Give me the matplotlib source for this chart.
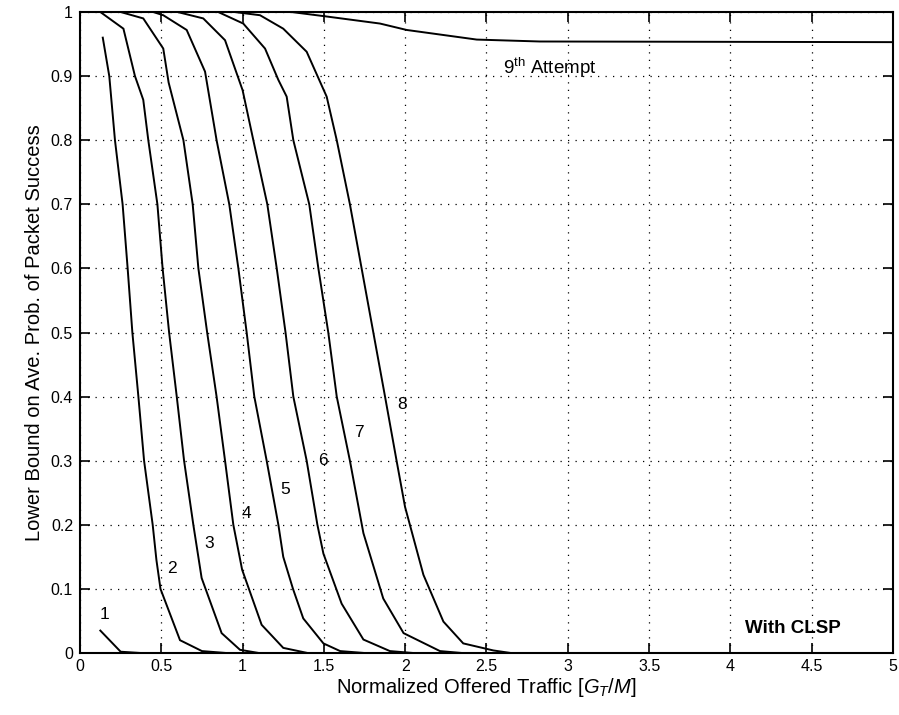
import matplotlib
matplotlib.use("Agg")
import matplotlib.pyplot as plt

plt.rcParams['font.family'] = ['Liberation Sans', 'DejaVu Sans']
plt.rcParams['mathtext.fontset'] = 'custom'
plt.rcParams['mathtext.rm'] = 'Liberation Sans'
plt.rcParams['mathtext.it'] = 'Liberation Sans:italic'

# ---- data ----
c1_x = [0.125, 0.25, 0.375, 5.0]
c1_y = [0.035, 0.002, 0.0, 0.0]

c2_x = [0.14, 0.18, 0.215, 0.262, 0.293, 0.322, 0.359, 0.394, 0.447, 0.47, 0.495, 0.615, 0.75, 0.9, 5.0]
c2_y = [0.96, 0.90, 0.80, 0.70, 0.60, 0.50, 0.40, 0.30, 0.20, 0.145, 0.10, 0.02, 0.003, 0.0, 0.0]

c3_x = [0.125, 0.267, 0.338, 0.389, 0.42, 0.476, 0.508, 0.548, 0.595, 0.64, 0.697, 0.748, 0.871, 0.984, 1.1, 5.0]
c3_y = [1.0, 0.974, 0.90, 0.863, 0.80, 0.70, 0.60, 0.50, 0.40, 0.30, 0.20, 0.117, 0.031, 0.005, 0.0, 0.0]

c4_x = [0.125, 0.25, 0.389, 0.512, 0.545, 0.636, 0.693, 0.728, 0.782, 0.84, 0.892, 0.943, 0.997, 1.117, 1.25, 1.4, 5.0]
c4_y = [1.0, 1.0, 0.99, 0.943, 0.89, 0.80, 0.70, 0.60, 0.50, 0.40, 0.30, 0.20, 0.13, 0.044, 0.008, 0.0, 0.0]

c5_x = [0.125, 0.45, 0.512, 0.656, 0.769, 0.84, 0.918, 0.974, 1.025, 1.072, 1.148, 1.22, 1.25, 1.31, 1.373, 1.497, 1.6, 1.75, 5.0]
c5_y = [1.0, 1.0, 0.995, 0.972, 0.907, 0.80, 0.70, 0.60, 0.50, 0.40, 0.30, 0.20, 0.15, 0.10, 0.054, 0.015, 0.003, 0.0, 0.0]

c6_x = [0.125, 0.6, 0.758, 0.892, 1.0, 1.066, 1.152, 1.21, 1.264, 1.312, 1.394, 1.46, 1.497, 1.609, 1.743, 1.906, 2.05, 5.0]
c6_y = [1.0, 1.0, 0.99, 0.956, 0.878, 0.80, 0.70, 0.60, 0.50, 0.40, 0.30, 0.20, 0.155, 0.077, 0.021, 0.003, 0.0, 0.0]

c7_x = [0.125, 0.85, 1.004, 1.138, 1.22, 1.271, 1.312, 1.41, 1.466, 1.527, 1.579, 1.66, 1.743, 1.865, 1.99, 2.214, 2.35, 5.0]
c7_y = [1.0, 1.0, 0.982, 0.943, 0.894, 0.868, 0.80, 0.70, 0.60, 0.50, 0.40, 0.30, 0.187, 0.085, 0.031, 0.003, 0.0, 0.0]

c8_x = [0.125, 0.95, 1.107, 1.25, 1.394, 1.517, 1.579, 1.66, 1.732, 1.804, 1.876, 1.947, 1.999, 2.112, 2.235, 2.357, 2.542, 2.65, 5.0]
c8_y = [1.0, 1.0, 0.995, 0.974, 0.938, 0.868, 0.80, 0.70, 0.60, 0.50, 0.40, 0.30, 0.228, 0.122, 0.049, 0.015, 0.004, 0.0, 0.0]

c9_x = [0.125, 1.3, 1.517, 1.845, 2.009, 2.44, 2.829, 5.0]
c9_y = [1.0, 1.0, 0.993, 0.982, 0.972, 0.957, 0.954, 0.953]

curves = [(c1_x, c1_y), (c2_x, c2_y), (c3_x, c3_y), (c4_x, c4_y), (c5_x, c5_y),
          (c6_x, c6_y), (c7_x, c7_y), (c8_x, c8_y), (c9_x, c9_y)]

label_text = ['1', '2', '3', '4', '5', '6', '7', '8']
label_x = [0.148, 0.564, 0.795, 1.025, 1.26, 1.496, 1.718, 1.978]
label_y = [0.06, 0.132, 0.171, 0.218, 0.255, 0.301, 0.344, 0.387]

xticks = [0, 0.5, 1, 1.5, 2, 2.5, 3, 3.5, 4, 4.5, 5]
xticklabels = ['0', '0.5', '1', '1.5', '2', '2.5', '3', '3.5', '4', '4.5', '5']
yticks = [0, 0.1, 0.2, 0.3, 0.4, 0.5, 0.6, 0.7, 0.8, 0.9, 1]
yticklabels = ['0', '0.1', '0.2', '0.3', '0.4', '0.5', '0.6', '0.7', '0.8', '0.9', '1']

# ---- figure ----
fig = plt.figure(figsize=(8.99, 7.15), dpi=100)
ax = fig.add_axes([0.089, 0.0867, 0.9043, 0.8965])

for cx, cy in curves:
    ax.plot(cx, cy, color='black', lw=1.4, solid_joinstyle='miter', clip_on=True)

for t, lx, ly in zip(label_text, label_x, label_y):
    ax.text(lx, ly, t, fontsize=12.5, ha='center', va='center')

ax.text(2.60, 0.912, r'9$^{\rm th}$ Attempt', fontsize=13.5, ha='left', va='center')
ax.text(4.09, 0.039, 'With CLSP', fontsize=13.5, ha='left', va='center', fontweight='bold')

ax.set_xlim(0, 5)
ax.set_ylim(0, 1)
ax.set_xticks(xticks)
ax.set_xticklabels(xticklabels)
ax.set_yticks(yticks)
ax.set_yticklabels(yticklabels)
ax.tick_params(direction='in', length=7, width=1.2, top=True, right=True,
               labelsize=11.5, colors='black')
ax.tick_params(axis='x', pad=4)
ax.tick_params(axis='y', pad=5)
ax.grid(True, color='black', linestyle=(0, (1, 5)), linewidth=0.9)
for s in ax.spines.values():
    s.set_linewidth(1.5)

ax.set_xlabel(r'Normalized Offered Traffic [$G_T$/$M$]', fontsize=14.5, labelpad=2)
ax.set_ylabel('Lower Bound on Ave. Prob. of Packet Success', fontsize=14.5, labelpad=5)

fig.savefig('out.png', dpi=100)
